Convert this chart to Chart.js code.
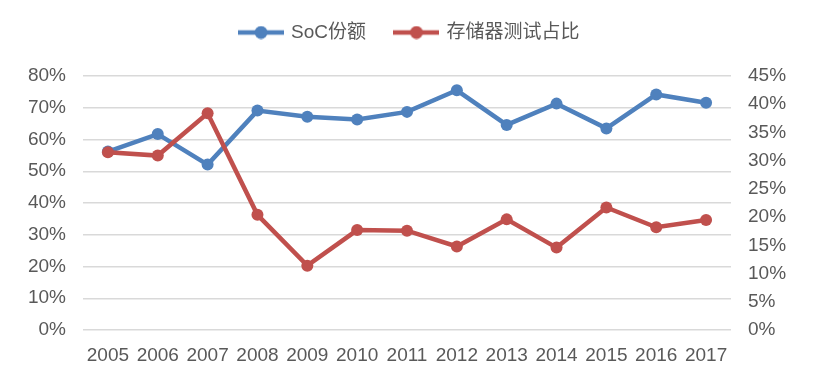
<!DOCTYPE html>
<html>
<head>
<meta charset="utf-8">
<script src="https://cdn.jsdelivr.net/npm/chart.js@4/dist/chart.umd.min.js"></script>
<style>
html,body{margin:0;padding:0;background:#fff;}
#wrap{width:820px;height:390px;}
</style>
</head>
<body>
<div id="wrap"><canvas id="c" width="820" height="390"></canvas></div>
<script>
const categories = ['2005','2006','2007','2008','2009','2010','2011','2012','2013','2014','2015','2016','2017'];
const socShare = [56.2, 61.7, 52.1, 69.1, 67.2, 66.3, 68.7, 75.5, 64.6, 71.3, 63.5, 74.2, 71.6];
const memoryTestShare = [31.5, 30.9, 38.4, 20.4, 11.4, 17.7, 17.6, 14.8, 19.6, 14.6, 21.7, 18.2, 19.5];
const seriesNames = ['SoC份额', '存储器测试占比'];
const leftTicks = [0, 10, 20, 30, 40, 50, 60, 70, 80];
const rightTicks = [0, 5, 10, 15, 20, 25, 30, 35, 40, 45];

const BLUE = '#4F81BD';
const RED = '#C0504D';
const TEXT = '#595959';

Chart.defaults.font.family = "'Liberation Sans', Arial, 'Noto Sans CJK SC', sans-serif";
Chart.defaults.font.size = 19;
Chart.defaults.color = TEXT;

function legendIcon(color) {
  const cv = document.createElement('canvas');
  cv.width = 46; cv.height = 14;
  const g = cv.getContext('2d');
  g.strokeStyle = color; g.lineWidth = 4.5; g.lineCap = 'butt';
  g.beginPath(); g.moveTo(0, 7); g.lineTo(46, 7); g.stroke();
  g.fillStyle = color;
  g.beginPath(); g.arc(23, 7, 6.5, 0, Math.PI * 2); g.fill();
  return cv;
}
const icons = [legendIcon(BLUE), legendIcon(RED)];

const legendFix = {
  id: 'legendFix',
  afterInit(chart) {
    const lg = chart.legend;
    if (!lg) return;
    const fit = lg.fit;
    lg.fit = function () { fit.call(this); this.height = 83; };
  }
};

new Chart(document.getElementById('c'), {
  type: 'line',
  data: {
    labels: categories,
    datasets: [
      {
        label: seriesNames[0], data: socShare, yAxisID: 'yL',
        borderColor: BLUE, backgroundColor: BLUE,
        pointBackgroundColor: BLUE, pointBorderColor: BLUE,
        borderWidth: 4.5, pointRadius: 6, pointBorderWidth: 0, tension: 0, order: 1
      },
      {
        label: seriesNames[1], data: memoryTestShare, yAxisID: 'yR',
        borderColor: RED, backgroundColor: RED,
        pointBackgroundColor: RED, pointBorderColor: RED,
        borderWidth: 4.5, pointRadius: 6, pointBorderWidth: 0, tension: 0, order: 0
      }
    ]
  },
  options: {
    responsive: false,
    animation: false,
    devicePixelRatio: 1,
    layout: { padding: { top: -7, left: 0, right: 0, bottom: 0 } },
    plugins: {
      tooltip: { enabled: false },
      legend: {
        position: 'top',
        labels: {
          usePointStyle: true,
          pointStyleWidth: 41,
          padding: 30,
          color: TEXT,
          font: { size: 19 },
          sort: (a, b) => a.datasetIndex - b.datasetIndex,
          generateLabels(chart) {
            const items = Chart.defaults.plugins.legend.labels.generateLabels(chart);
            items.forEach(it => { it.pointStyle = icons[it.datasetIndex]; });
            return items;
          }
        }
      }
    },
    scales: {
      x: {
        offset: true,
        grid: { display: false, drawTicks: false, offset: true },
        border: { display: false },
        ticks: { padding: 14, color: TEXT, font: { size: 19 }, maxRotation: 0, autoSkip: false },
        afterFit(s) { s.height = 60; }
      },
      yL: {
        position: 'left', min: 0, max: 80,
        afterBuildTicks(s) { s.ticks = leftTicks.map(v => ({ value: v })); },
        grid: { color: '#d9d9d9', lineWidth: 1.5, drawTicks: false },
        border: { display: false },
        ticks: { padding: 17, color: TEXT, font: { size: 19 }, callback: v => v + '%' },
        afterFit(s) { s.width = 83; }
      },
      yR: {
        position: 'right', min: 0, max: 45,
        afterBuildTicks(s) { s.ticks = rightTicks.map(v => ({ value: v })); },
        grid: { display: false, drawTicks: false },
        border: { display: false },
        ticks: { padding: 17, color: TEXT, font: { size: 19 }, callback: v => v + '%' },
        afterFit(s) { s.width = 89; }
      }
    }
  },
  plugins: [legendFix]
});
</script>
</body>
</html>
